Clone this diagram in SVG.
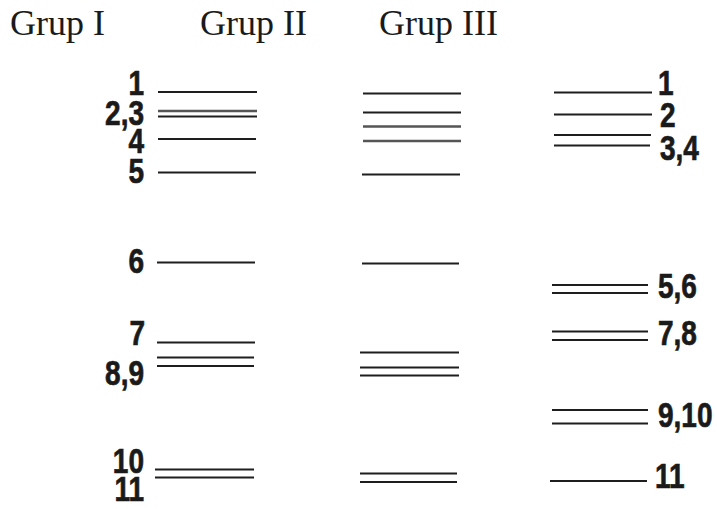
<svg xmlns="http://www.w3.org/2000/svg" width="717" height="509" viewBox="0 0 717 509">
<style>
.hdr{font-family:"Liberation Serif","Times New Roman",serif;font-size:36px;fill:#1a1a1a}
.num{font-family:"Liberation Sans",Arial,sans-serif;font-weight:bold;font-size:35px;fill:#1a1a1a;stroke:#1a1a1a;stroke-width:0.7}
.end{text-anchor:end}
.band{stroke:#1e1e1e;stroke-width:2;fill:none}
.grey{stroke:#555;stroke-width:2.6;fill:none}
</style>
<rect width="717" height="509" fill="#fff"/>
<g id="headers">
<text class="hdr" x="10" y="35">Grup I</text>
<text class="hdr" x="200" y="35">Grup II</text>
<text class="hdr" x="379" y="35">Grup III</text>
</g>
<g id="labels-group1">
<text class="num end" transform="translate(144,95) scale(0.8,1)">1</text>
<text class="num end" transform="translate(144,125) scale(0.8,1)">2,3</text>
<text class="num end" transform="translate(144,153) scale(0.8,1)">4</text>
<text class="num end" transform="translate(144,183) scale(0.8,1)">5</text>
<text class="num end" transform="translate(144,273) scale(0.8,1)">6</text>
<text class="num end" transform="translate(145,345) scale(0.8,1)">7</text>
<text class="num end" transform="translate(144,385) scale(0.8,1)">8,9</text>
<text class="num end" transform="translate(144,473) scale(0.8,1)">10</text>
<text class="num end" transform="translate(144,501) scale(0.8,1)">11</text>
</g>
<g id="labels-group3">
<text class="num" transform="translate(658,95) scale(0.8,1)">1</text>
<text class="num" transform="translate(660,127) scale(0.8,1)">2</text>
<text class="num" transform="translate(660,160) scale(0.8,1)">3,4</text>
<text class="num" transform="translate(658,298) scale(0.8,1)">5,6</text>
<text class="num" transform="translate(658,345) scale(0.8,1)">7,8</text>
<text class="num" transform="translate(658,427) scale(0.8,1)">9,10</text>
<text class="num" transform="translate(655,488) scale(0.8,1)">11</text>
</g>
<g id="connectors">
<g id="bands-group1">
<line class="band" x1="158" y1="92" x2="257" y2="92"/>
<line class="grey" x1="158" y1="111" x2="257" y2="111"/>
<line class="band" x1="158" y1="116.5" x2="257" y2="116.5"/>
<line class="band" x1="158" y1="139" x2="256" y2="139"/>
<line class="band" x1="158" y1="172.5" x2="256" y2="172.5"/>
<line class="band" x1="157" y1="262.5" x2="255" y2="262.5"/>
<line class="band" x1="157" y1="342.5" x2="255" y2="342.5"/>
<line class="band" x1="157" y1="357.5" x2="254" y2="357.5"/>
<line class="band" x1="157" y1="366" x2="254" y2="366"/>
<line class="band" x1="155" y1="469.5" x2="254" y2="469.5"/>
<line class="band" x1="155" y1="477.5" x2="254" y2="477.5"/>
</g>
<g id="bands-group2">
<line class="band" x1="363" y1="93.5" x2="461" y2="93.5"/>
<line class="band" x1="363" y1="112.5" x2="461" y2="112.5"/>
<line class="grey" x1="363" y1="126.5" x2="461" y2="126.5"/>
<line class="grey" x1="363" y1="141" x2="461" y2="141"/>
<line class="band" x1="362" y1="174.5" x2="460" y2="174.5"/>
<line class="band" x1="362" y1="263.5" x2="459" y2="263.5"/>
<line class="band" x1="360" y1="352.5" x2="459" y2="352.5"/>
<line class="band" x1="360" y1="367.5" x2="459" y2="367.5"/>
<line class="band" x1="360" y1="375.5" x2="459" y2="375.5"/>
<line class="band" x1="360" y1="473.5" x2="457" y2="473.5"/>
<line class="band" x1="360" y1="482" x2="457" y2="482"/>
</g>
<g id="bands-group3">
<line class="band" x1="554" y1="92.5" x2="652" y2="92.5"/>
<line class="band" x1="554" y1="114.5" x2="652" y2="114.5"/>
<line class="band" x1="554" y1="135" x2="651" y2="135"/>
<line class="band" x1="554" y1="145.5" x2="650" y2="145.5"/>
<line class="band" x1="552" y1="285" x2="648" y2="285"/>
<line class="band" x1="552" y1="293" x2="648" y2="293"/>
<line class="band" x1="552" y1="331.5" x2="648" y2="331.5"/>
<line class="band" x1="552" y1="340" x2="648" y2="340"/>
<line class="band" x1="552" y1="410" x2="648" y2="410"/>
<line class="band" x1="552" y1="423.5" x2="648" y2="423.5"/>
<line class="band" x1="550" y1="481" x2="647" y2="481"/>
</g>
</g>
</svg>
